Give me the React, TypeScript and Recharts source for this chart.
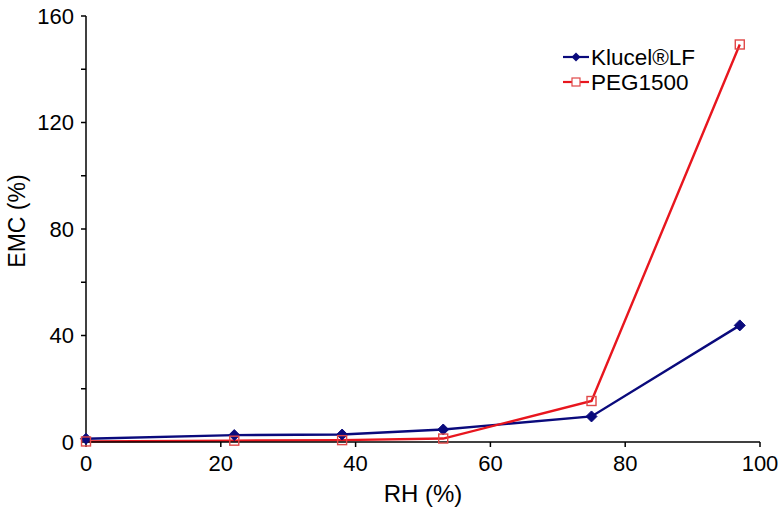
import React from "react";
import { LineChart, Line, XAxis, YAxis, Label } from "recharts";

const rh = [0, 22, 38, 53, 75, 97];
const klucel = [1.2, 2.6, 2.8, 4.7, 9.6, 43.8];
const peg = [0.2, 0.5, 0.7, 1.3, 15.4, 149.3];
const xTicks = [0, 20, 40, 60, 80, 100];
const yTicks = [0, 20, 40, 60, 80, 100, 120, 140, 160];
const seriesNames = ["Klucel\u00AELF", "PEG1500"];

const NAVY = "#0a0a7c";
const RED = "#e8161e";
const FONT = "'Liberation Sans', Arial, Helvetica, sans-serif";

const data = rh.map((x, i) => ({ rh: x, klucel: klucel[i], peg: peg[i] }));

const Diamond = (props: any) => {
  const { cx, cy, index } = props;
  if (cx == null || cy == null) return <g key={`d${index}`} />;
  const r = 5.5;
  return (
    <path
      key={`d${index}`}
      d={`M${cx},${cy - r}L${cx + r},${cy}L${cx},${cy + r}L${cx - r},${cy}Z`}
      fill={NAVY}
      stroke={NAVY}
    />
  );
};

const Square = (props: any) => {
  const { cx, cy, index } = props;
  if (cx == null || cy == null) return <g key={`s${index}`} />;
  const r = 4.5;
  return (
    <rect
      key={`s${index}`}
      x={cx - r}
      y={cy - r}
      width={2 * r}
      height={2 * r}
      fill="none"
      stroke="#e04848"
      strokeWidth={1.4}
    />
  );
};

const YTitle = (props: any) => {
  const vb = props.viewBox || {};
  const x = (vb.x || 0) + 25;
  const y = (vb.y || 0) + (vb.height || 0) / 2 - 8;
  return (
    <text
      x={x}
      y={y}
      transform={`rotate(-90, ${x}, ${y})`}
      textAnchor="middle"
      fontSize={23}
      fontFamily={FONT}
      fill="#000"
    >
      EMC (%)
    </text>
  );
};

export default function App() {
  return (
    <div style={{ position: "absolute", left: 0, top: 0, width: 780, height: 507, background: "#fff" }}>
      <LineChart
        width={780}
        height={507}
        data={data}
        margin={{ top: 16, right: 20, left: 0, bottom: 0 }}
      >
        <XAxis
          dataKey="rh"
          type="number"
          domain={[0, 100]}
          ticks={xTicks}
          interval={0}
          height={65}
          tickSize={5}
          tickMargin={8}
          axisLine={{ stroke: "#000", strokeWidth: 1.5 }}
          tickLine={{ stroke: "#000", strokeWidth: 1.5 }}
          tick={{ fill: "#000", fontSize: 22, fontFamily: FONT }}
        >
          <Label
            value="RH (%)"
            position="insideBottom"
            offset={5}
            style={{ fill: "#000", fontSize: 24, fontFamily: FONT }}
          />
        </XAxis>
        <YAxis
          type="number"
          domain={[0, 160]}
          ticks={yTicks}
          interval={0}
          width={86}
          tickSize={5}
          tickMargin={7}
          tickFormatter={(v: number) => (v % 40 === 0 ? String(v) : "")}
          axisLine={{ stroke: "#000", strokeWidth: 1.5 }}
          tickLine={{ stroke: "#000", strokeWidth: 1.5 }}
          tick={{ fill: "#000", fontSize: 22, fontFamily: FONT }}
        >
          <Label content={YTitle} />
        </YAxis>
        <Line
          dataKey="klucel"
          stroke={NAVY}
          strokeWidth={2.4}
          dot={Diamond}
          activeDot={false}
          isAnimationActive={false}
        />
        <Line
          dataKey="peg"
          stroke={RED}
          strokeWidth={2.4}
          dot={Square}
          activeDot={false}
          isAnimationActive={false}
        />
      </LineChart>
      <svg
        width={170}
        height={60}
        style={{ position: "absolute", left: 560, top: 43 }}
      >
        <line x1={3} x2={29} y1={14} y2={14} stroke={NAVY} strokeWidth={2.2} />
        <path d="M16,9.5L20.5,14L16,18.5L11.5,14Z" fill={NAVY} />
        <text x={31} y={22} fontSize={22.5} fontFamily={FONT} fill="#000">
          {seriesNames[0]}
        </text>
        <line x1={3} x2={29} y1={39} y2={39} stroke={RED} strokeWidth={2.2} />
        <rect x={12} y={35} width={8} height={8} fill="#fff" stroke="#e04848" strokeWidth={1.2} />
        <text x={31} y={47} fontSize={22.5} fontFamily={FONT} fill="#000">
          {seriesNames[1]}
        </text>
      </svg>
    </div>
  );
}
